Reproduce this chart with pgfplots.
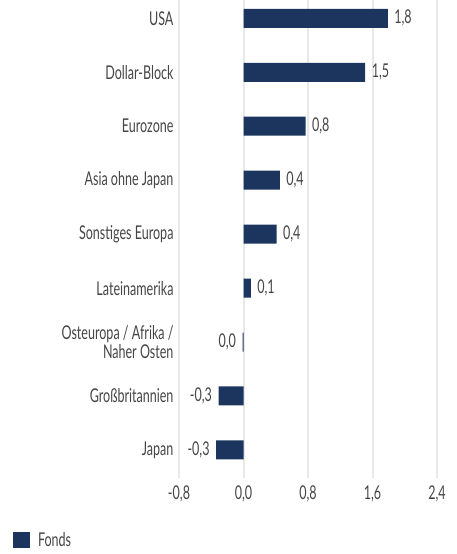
\documentclass[border=0pt]{standalone}
\usepackage{pgfplots}
\pgfplotsset{compat=1.18}
\usepackage{fontspec}
\setmainfont{Lato}[FakeStretch=0.66]
\definecolor{barc}{HTML}{1C355E}
\definecolor{txt}{HTML}{454545}
\definecolor{gridc}{HTML}{E8E8E8}
\begin{document}
\begin{tikzpicture}[x=1pt,y=1pt]
\useasboundingbox (0,0) rectangle (457,554);
\begin{axis}[
  at={(179pt,76pt)}, anchor=south west,
  scale only axis, width=258pt, height=478pt,
  xmin=-0.8, xmax=2.4, ymin=-0.52, ymax=8.34,
  axis line style={draw=none},
  xbar, bar width=19pt, bar shift=0pt,
  xtick={-0.8,0,0.8,1.6,2.4},
  xticklabels={{-0,8},{0,0},{0,8},{1,6},{2,4}},
  ytick={0,...,8},
  yticklabels={Japan,Großbritannien,{Osteuropa / Afrika /\\Naher Osten},Lateinamerika,Sonstiges Europa,Asia ohne Japan,Eurozone,Dollar-Block,USA},
  every tick label/.append style={font=\fontsize{19}{16}\selectfont, text=txt},
  yticklabel style={align=right, xshift=-2pt},
  xticklabel style={yshift=-4pt},
  xmajorgrids=true, x grid style={gridc, line width=2pt},
  major tick length=0pt,
  clip=false,
  legend style={at={(-0.644,-0.13)}, anchor=west, draw=none, fill=none,
    font=\fontsize{19}{19}\selectfont, text=txt, inner sep=0pt},
  legend image code/.code={\fill[barc] (0pt,-8pt) rectangle (17pt,8pt);},
  nodes near coords style={font=\fontsize{19}{19}\selectfont, text=txt},
  point meta=explicit symbolic,
]
\addplot[fill=barc, draw=none, nodes near coords, nodes near coords style={anchor=west, xshift=3pt}]
  table[meta=lab] {
x y lab
1.79 8 {1,8}
1.51 7 {1,5}
0.77 6 {0,8}
0.45 5 {0,4}
0.41 4 {0,4}
0.09 3 {0,1}
};
\addlegendentry{\hspace{6pt}Fonds}
\addplot[fill=barc, draw=none, forget plot, nodes near coords, nodes near coords style={anchor=east, xshift=-3pt}]
  table[meta=lab] {
x y lab
-0.012 2 {0,0}
-0.31 1 {-0,3}
-0.34 0 {-0,3}
};
\end{axis}
\end{tikzpicture}
\end{document}
